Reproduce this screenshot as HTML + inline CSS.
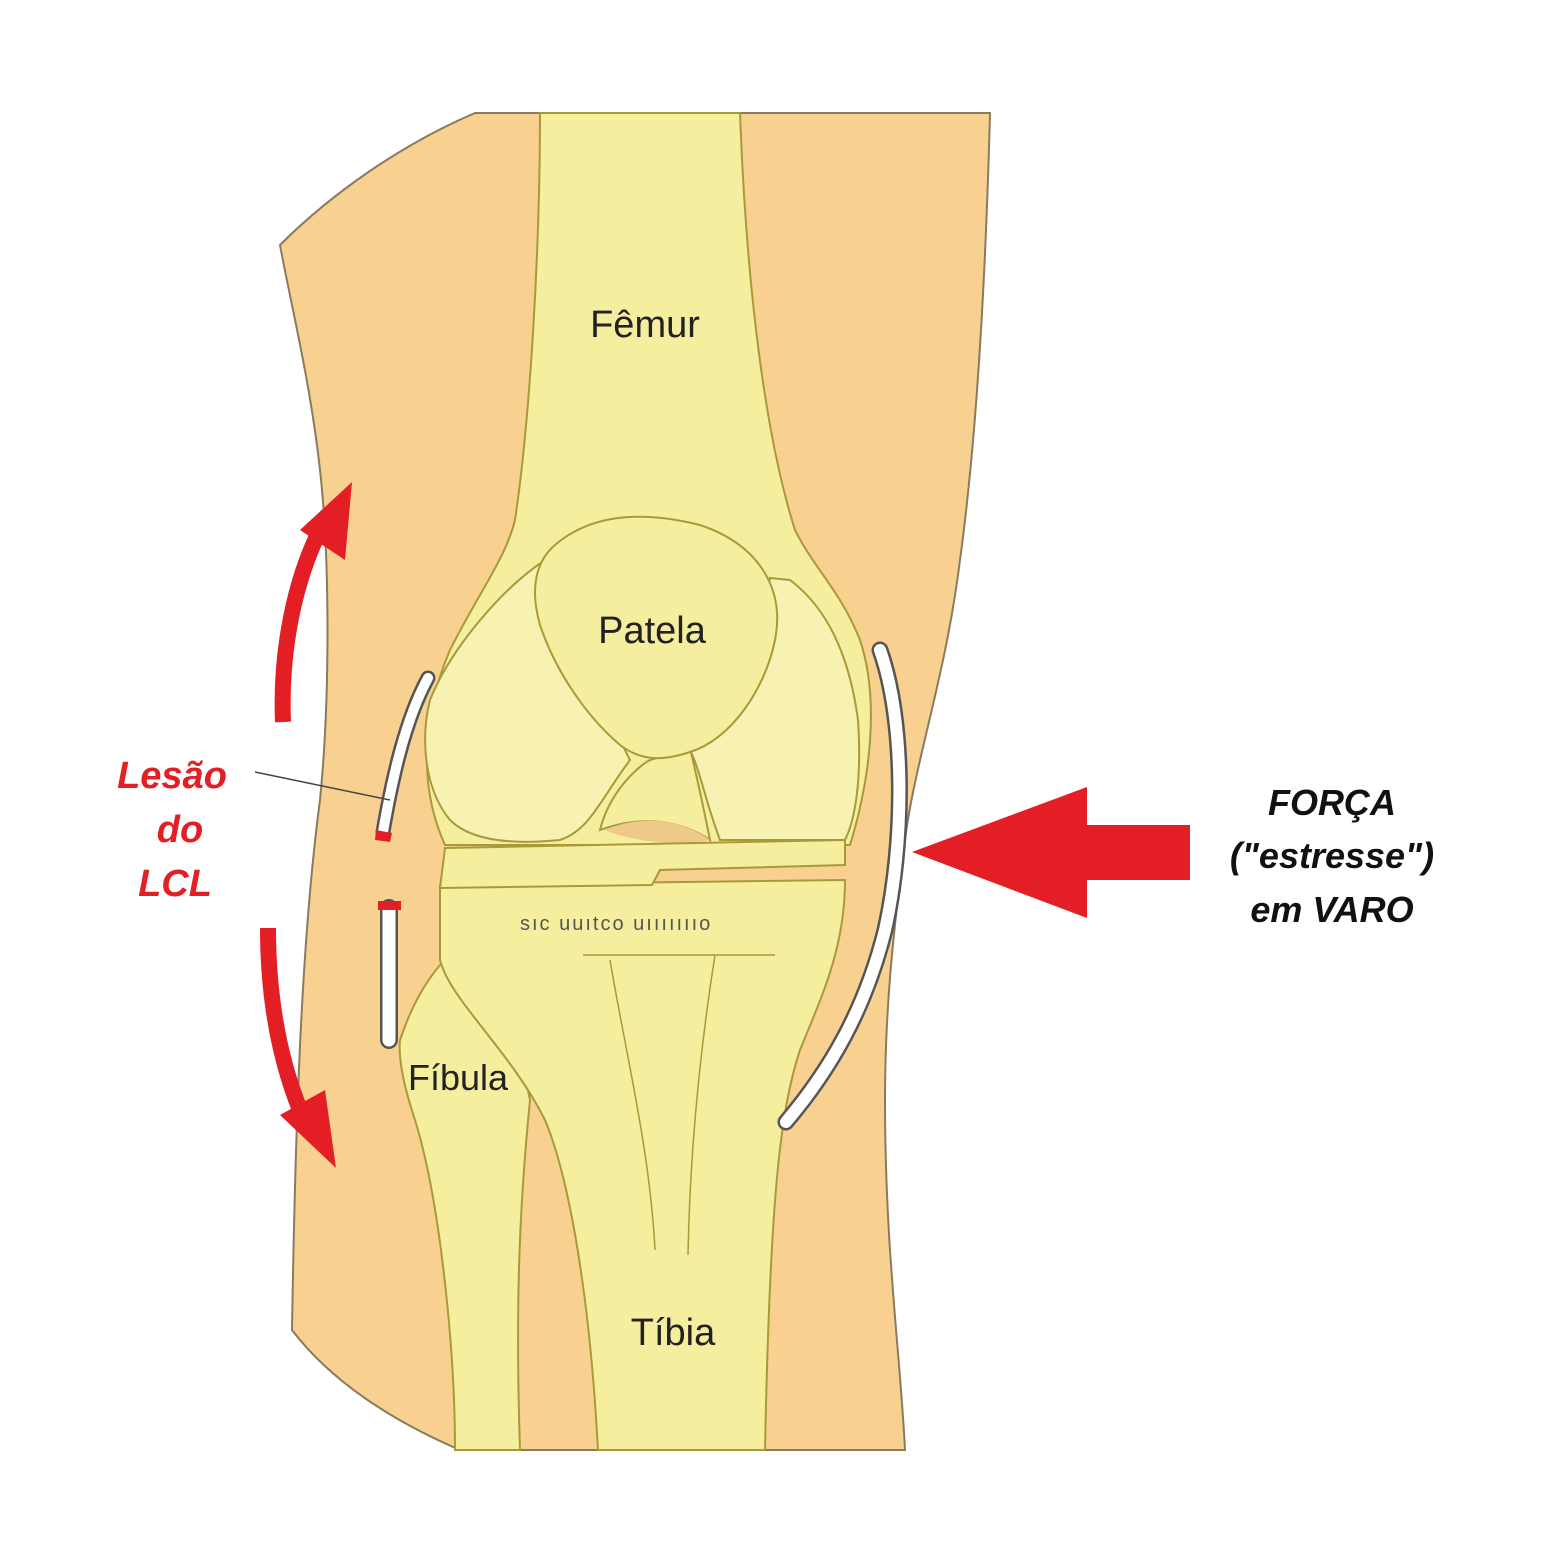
<!DOCTYPE html>
<html><head><meta charset="utf-8"><style>
html,body{margin:0;padding:0;background:#fff;}
svg{display:block}
text{font-family:"Liberation Sans",sans-serif;}
</style></head><body>
<svg width="1563" height="1563" viewBox="0 0 1563 1563" xmlns="http://www.w3.org/2000/svg">
<path d="M475,113 L990,113 C985,300 975,450 960,560 C945,680 915,760 905,840 C895,920 885,1000 885,1100 C885,1250 900,1350 905,1450 L460,1450 C390,1420 330,1380 292,1330 C295,1150 300,950 320,800 C330,700 330,560 320,470 C310,380 290,300 280,245 C330,195 400,145 475,113 Z" fill="#F8D190" stroke="#8a7a60" stroke-width="2"/>
<path d="M540,113 L740,113 C745,250 760,420 795,530 C815,570 840,590 860,640 C880,700 870,780 850,845 L445,845 C420,790 420,720 450,650 C480,590 505,560 515,520 C530,420 540,250 540,113 Z" fill="#F5EE9E" stroke="#A89A3A" stroke-width="2"/>
<path d="M430,700 C450,650 500,590 545,560 C560,620 600,700 630,760 C600,800 590,830 560,840 C510,845 470,840 450,820 C425,790 420,740 430,700 Z" fill="#F7F1B2" stroke="#A89A3A" stroke-width="2"/>
<path d="M770,578 L790,580 C830,610 850,660 858,720 C862,780 855,820 845,840 L720,840 C705,800 700,770 690,750 C730,700 760,640 770,578 Z" fill="#F7F1B2" stroke="#A89A3A" stroke-width="2"/>
<path d="M600,830 C610,790 640,765 650,760 L690,748 C700,790 705,815 710,840 C680,820 640,815 600,830 Z" fill="#F5EE9E" stroke="#A89A3A" stroke-width="2"/>
<path d="M605,830 C640,815 680,818 710,840 C690,845 640,845 605,830 Z" fill="#EFC98A"/>
<path d="M555,545 C590,515 640,510 700,525 C760,545 785,590 775,640 C765,690 730,740 690,752 C660,762 640,760 620,745 C585,715 555,670 540,625 C530,590 535,562 555,545 Z" fill="#F5EE9E" stroke="#A89A3A" stroke-width="2"/>
<path d="M400,1040 C420,980 450,950 470,940 C500,980 520,1050 530,1100 C520,1200 515,1300 520,1450 L455,1450 C455,1350 440,1200 415,1120 C405,1090 398,1060 400,1040 Z" fill="#F5EE9E" stroke="#A89A3A" stroke-width="2"/>
<path d="M440,885 L845,880 C845,950 820,1000 800,1050 C780,1110 770,1200 765,1450 L598,1450 C590,1300 570,1180 545,1120 C510,1050 450,1000 440,960 Z" fill="#F5EE9E" stroke="#A89A3A" stroke-width="2"/>
<path d="M610,960 C625,1050 650,1150 655,1250" fill="none" stroke="#A89A3A" stroke-width="1.5"/>
<path d="M715,955 C700,1050 690,1150 688,1255" fill="none" stroke="#A89A3A" stroke-width="1.5"/>
<line x1="583" y1="955" x2="775" y2="955" stroke="#A89A3A" stroke-width="1.5"/>
<text x="520" y="930" font-size="20" fill="#555" letter-spacing="2">sıc uuıtco uıııııııo</text>
<path d="M445,848 L845,840 L845,865 L660,870 L652,885 L440,888 Z" fill="#F5EE9E" stroke="#A89A3A" stroke-width="2"/>
<!-- right ligament -->
<path d="M880,650 C905,720 905,840 885,930 C865,1010 830,1070 786,1122" fill="none" stroke="#555" stroke-width="17" stroke-linecap="round"/>
<path d="M880,650 C905,720 905,840 885,930 C865,1010 830,1070 786,1122" fill="none" stroke="#fff" stroke-width="12" stroke-linecap="round"/>
<!-- left ligament -->
<path d="M428,678 C405,720 392,780 383,832" fill="none" stroke="#555" stroke-width="15" stroke-linecap="round"/>
<path d="M428,678 C405,720 392,780 383,832" fill="none" stroke="#fff" stroke-width="10" stroke-linecap="round"/>
<path d="M376,830 L392,833 L390,842 L375,840 Z" fill="#E31E24"/>
<path d="M389,908 L389,1040" fill="none" stroke="#555" stroke-width="18" stroke-linecap="round"/>
<path d="M389,908 L389,1040" fill="none" stroke="#fff" stroke-width="13" stroke-linecap="round"/>
<rect x="378" y="901" width="23" height="9" fill="#E31E24"/>
<line x1="255" y1="772" x2="390" y2="800" stroke="#444" stroke-width="1.5"/>
<path d="M283,722 C280,650 295,580 320,530" fill="none" stroke="#E31E24" stroke-width="16"/>
<polygon points="352,482 345,560 300,530" fill="#E31E24"/>
<path d="M268,928 C268,1000 280,1060 300,1110" fill="none" stroke="#E31E24" stroke-width="16"/>
<polygon points="336,1168 280,1115 325,1090" fill="#E31E24"/>
<rect x="1080" y="825" width="110" height="55" fill="#E31E24"/>
<polygon points="912,852 1087,787 1087,918" fill="#E31E24"/>
<text x="645" y="337" font-size="38" text-anchor="middle" fill="#222">Fêmur</text>
<text x="652" y="643" font-size="38" text-anchor="middle" fill="#222">Patela</text>
<text x="458" y="1090" font-size="36" text-anchor="middle" fill="#222">Fíbula</text>
<text x="673" y="1345" font-size="38" text-anchor="middle" fill="#222">Tíbia</text>
<g font-size="38" font-style="italic" font-weight="bold" fill="#E31E24" text-anchor="middle">
<text x="172" y="788">Lesão</text>
<text x="180" y="842">do</text>
<text x="175" y="896">LCL</text>
</g>
<g font-size="36" font-style="italic" font-weight="bold" fill="#111" text-anchor="middle">
<text x="1332" y="815">FORÇA</text>
<text x="1332" y="868">("estresse")</text>
<text x="1332" y="922">em VARO</text>
</g>
</svg>
</body></html>
